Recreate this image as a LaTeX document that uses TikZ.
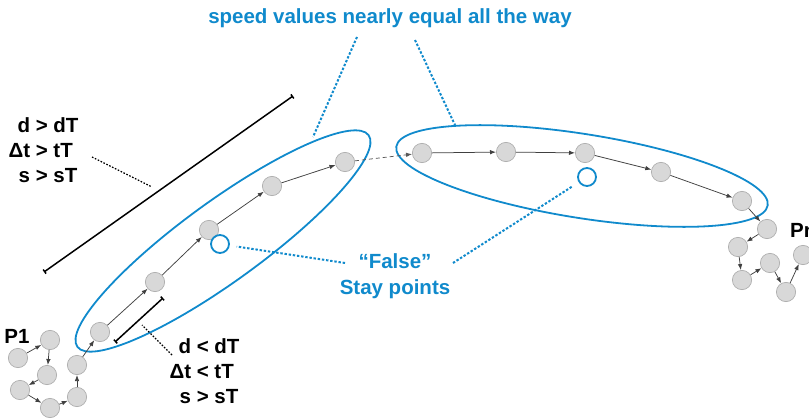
\documentclass[tikz,border=0pt]{standalone}
\usepackage{fontspec}
\setmainfont{Liberation Sans}
\usepackage{xcolor}
\usepackage{tikz}
\usetikzlibrary{arrows.meta,positioning,shapes.geometric}
\definecolor{trackblue}{RGB}{16,138,204}
\definecolor{ptgray}{RGB}{216,216,216}
\definecolor{ptedge}{RGB}{176,176,176}

\begin{document}
\begin{tikzpicture}[
  x=1pt, y=-1pt,
  pt/.style={circle,draw=ptedge,fill=ptgray,line width=0.7pt,minimum size=19.3pt,inner sep=0pt},
  falsept/.style={circle,draw=trackblue,line width=1.8pt,minimum size=18pt,inner sep=0pt},
  zone/.style={ellipse,draw=trackblue,line width=1.8pt,inner sep=0pt},
  lbl/.style={font=\fontsize{20.5}{25}\selectfont\bfseries,inner sep=0pt},
  arr/.style={-{Latex[length=6pt,width=4.5pt]},draw=black!75,line width=0.75pt},
  gaparr/.style={arr,dashed,draw=black!65,dash pattern=on 4pt off 3pt},
  bluedot/.style={draw=trackblue,line width=2pt,dash pattern=on 2.4pt off 1.8pt},
  blackdot/.style={draw=black,line width=1.3pt,dash pattern=on 1.6pt off 1.6pt},
  span/.style={draw=black,line width=1.5pt,{Bar[width=5pt,line width=1.5pt]}-{Bar[width=5pt,line width=1.5pt]}}
]
\useasboundingbox (0,0) rectangle (809,420);

% the two groupings
\node[zone,minimum width=360pt,minimum height=80pt,rotate=36] (zoneL) at (223,241) {};
\node[zone,minimum width=376pt,minimum height=84pt,rotate=-9] (zoneR) at (582,176) {};

% trajectory P1
\node[pt] (l1) at (18,358) {};
\node[pt] (l2) at (50,340) {};
\node[pt] (l3) at (47,375) {};
\node[pt] (l4) at (20,390) {};
\node[pt] (l5) at (50,408) {};
\node[pt] (l6) at (77,397) {};
\node[pt] (l7) at (77,365) {};
\node[pt] (l8) at (100,332) {};
\node[pt] (l9) at (155,282) {};
\node[pt] (l10) at (209,230) {};
\node[pt] (l11) at (272,186) {};
\node[pt] (l12) at (345,162) {};
\node[falsept] (fs1) at (220,244) {};

% trajectory Pn
\node[pt] (r1) at (422,153) {};
\node[pt] (r2) at (506,152) {};
\node[pt] (r3) at (585,153) {};
\node[pt] (r4) at (661,172) {};
\node[pt] (r5) at (742,201) {};
\node[pt] (r6) at (767,229) {};
\node[pt] (r7) at (738,247) {};
\node[pt] (r8) at (742,280) {};
\node[pt] (r9) at (770,263) {};
\node[pt] (r10) at (786,292) {};
\node[pt] (r11) at (803,255) {};
\node[falsept] (fs2) at (587,177) {};

% labels
\node[lbl] (p1) at (17,336) {P1};
\node[lbl,anchor=west] (pn) at (790,230) {Pn};
\node[lbl,text=trackblue] (speed) at (390,18) {speed values nearly equal all the way};
\node[lbl,text=trackblue,align=center,font=\fontsize{20.5}{26}\selectfont\bfseries] (false) at (395,276) {“False”\\Stay points};
\node[lbl] (farcond) at (43.5,152) {\begin{tabular}{@{}r@{}l@{}}d&\ >\ dT\\Δt&\ >\ tT\\s&\ >\ sT\end{tabular}};
\node[lbl] (nearcond) at (204.5,373) {\begin{tabular}{@{}r@{}l@{}}d&\ <\ dT\\Δt&\ <\ tT\\s&\ >\ sT\end{tabular}};

% spans
\coordinate (farA) at (44,272);
\coordinate (farB) at (293,96);
\coordinate (nearA) at (115,342);
\coordinate (nearB) at (163,298);
\coordinate (farTick) at (152,187);
\coordinate (farFrom) at (92,157);
\coordinate (nearTick) at (142,325);
\coordinate (nearFrom) at (172,355);
\coordinate (speedL) at (357,37);
\coordinate (speedR) at (415,40);
\coordinate (zoneLtop) at (313,137);
\coordinate (zoneRtop) at (455,125);
\coordinate (falseL) at (345,263);
\coordinate (falseR) at (453,263);

\draw[span] (farA) -- (farB);
\draw[span] (nearA) -- (nearB);
\draw[blackdot] (farFrom) -- (farTick);
\draw[blackdot] (nearFrom) -- (nearTick);
\draw[bluedot] (speedL) -- (zoneLtop);
\draw[bluedot] (speedR) -- (zoneRtop);
\draw[bluedot,shorten >=7pt] (falseL) -- (fs1);
\draw[bluedot,shorten >=7pt] (falseR) -- (fs2);

\draw[arr] (l1) -- (l2);
\draw[arr] (l2) -- (l3);
\draw[arr] (l3) -- (l4);
\draw[arr] (l4) -- (l5);
\draw[arr] (l5) -- (l6);
\draw[arr] (l6) -- (l7);
\draw[arr] (l7) -- (l8);
\draw[arr] (l8) -- (l9);
\draw[arr] (l9) -- (l10);
\draw[arr] (l10) -- (l11);
\draw[arr] (l11) -- (l12);
\draw[gaparr] (l12) -- (r1);
\draw[arr] (r1) -- (r2);
\draw[arr] (r2) -- (r3);
\draw[arr] (r3) -- (r4);
\draw[arr] (r4) -- (r5);
\draw[arr] (r5) -- (r6);
\draw[arr] (r6) -- (r7);
\draw[arr] (r7) -- (r8);
\draw[arr] (r8) -- (r9);
\draw[arr] (r9) -- (r10);
\draw[arr] (r10) -- (r11);
\end{tikzpicture}
\end{document}
